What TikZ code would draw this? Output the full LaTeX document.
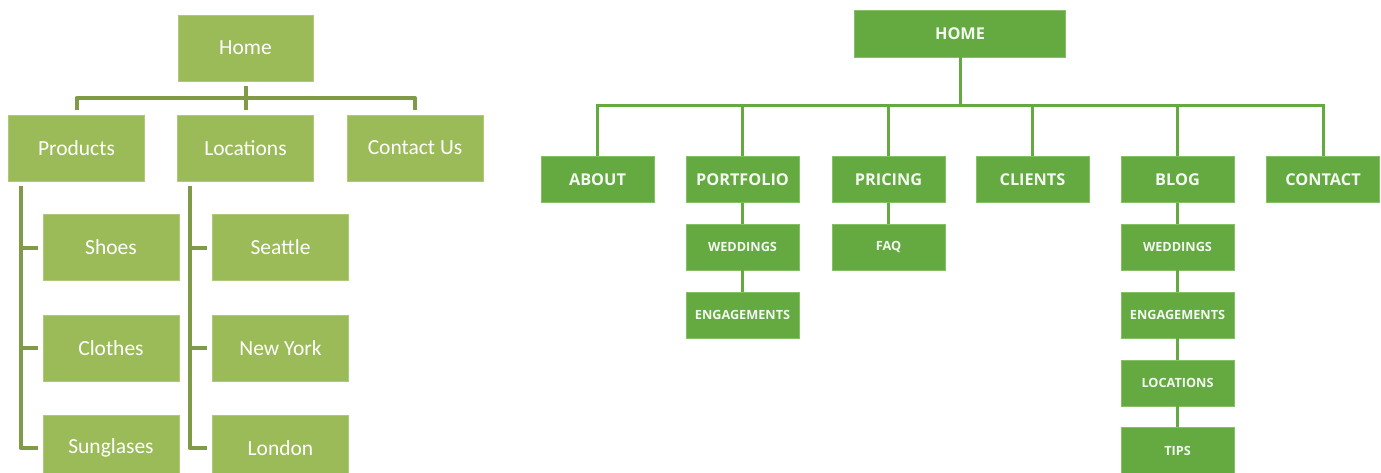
\documentclass[tikz,border=0pt]{standalone}
\usepackage{fontspec}
\setmainfont{Carlito}
\newfontfamily\capsfont{Open Sans}
\definecolor{oliveFill}{HTML}{9BBB59}
\definecolor{oliveLine}{HTML}{7F9B47}
\definecolor{grassFill}{HTML}{65A941}
\definecolor{grassEdge}{HTML}{86C066}
\begin{document}
\begin{tikzpicture}[x=1pt,y=-1pt,
	oliveBox/.style={shape=rectangle,inner sep=0pt,minimum width=136pt,minimum height=66pt,fill=oliveFill,draw=oliveFill!80!white,line width=0.6pt,text=white,font=\fontsize{21.5}{24}\selectfont},
	oliveLink/.style={draw=oliveLine,line width=4pt,line join=round},
	grassBox/.style={shape=rectangle,inner sep=0pt,minimum width=113pt,minimum height=46pt,fill=grassFill,draw=grassEdge,line width=0.6pt,text=white!92!grassFill,font=\capsfont\bfseries\fontsize{16.3}{19}\selectfont},
	grassSmall/.style={grassBox,font=\capsfont\bfseries\fontsize{12.7}{15}\selectfont},
	grassLink/.style={draw=grassFill,line width=3pt}]
	\clip (0,0) rectangle (1381,473);

	% left site map
	\node (homeNode) at (245.5,48)[oliveBox,minimum width=135pt] {Home};
	\node (productsNode) at (76.5,148)[oliveBox] {Products};
	\node (locationsNode) at (245.5,148)[oliveBox] {Locations};
	\node (contactNode) at (415,148)[oliveBox] {Contact Us};
	\node (shoesNode) at (111,247.5)[oliveBox] {Shoes};
	\node (clothesNode) at (111,348)[oliveBox] {Clothes};
	\node (sunglasesNode) at (111,448)[oliveBox] {Sunglases};
	\node (seattleNode) at (280.5,247.5)[oliveBox] {Seattle};
	\node (newYorkNode) at (280.5,348)[oliveBox] {New York};
	\node (londonNode) at (280.5,448)[oliveBox] {London};

	\coordinate (leftBus) at (245.5,98);
	\draw[oliveLink,shorten >=5pt] (leftBus) -- (homeNode.south);
	\foreach \n in {productsNode,locationsNode,contactNode}
		\draw[oliveLink,shorten >=5pt] (leftBus) -| (\n.north);
	\foreach \p/\c in {productsNode/shoesNode,productsNode/clothesNode,productsNode/sunglasesNode,
		locationsNode/seattleNode,locationsNode/newYorkNode,locationsNode/londonNode}
		\draw[oliveLink,shorten <=5pt,shorten >=5pt] ([xshift=-56pt]\p.south) |- (\c.west);

	% right site map
	\node (topNode) at (960,33.5)[grassBox,minimum width=211pt,minimum height=47pt] {HOME};
	\node (aboutNode) at (597.5,179.5)[grassBox] {ABOUT};
	\node (portfolioNode) at (742.5,179.5)[grassBox] {PORTFOLIO};
	\node (pricingNode) at (888.5,179.5)[grassBox] {PRICING};
	\node (clientsNode) at (1032.5,179.5)[grassBox] {CLIENTS};
	\node (blogNode) at (1177.5,179.5)[grassBox] {BLOG};
	\node (contactTopNode) at (1323,179.5)[grassBox] {CONTACT};
	\node (pfWeddingsNode) at (742.5,247)[grassSmall] {WEDDINGS};
	\node (pfEngagementsNode) at (742.5,315)[grassSmall] {ENGAGEMENTS};
	\node (faqNode) at (888.5,247)[grassSmall] {FAQ};
	\node (blWeddingsNode) at (1177.5,247)[grassSmall] {WEDDINGS};
	\node (blEngagementsNode) at (1177.5,315)[grassSmall] {ENGAGEMENTS};
	\node (blLocationsNode) at (1177.5,383)[grassSmall] {LOCATIONS};
	\node (tipsNode) at (1177.5,450.5)[grassSmall] {TIPS};

	\coordinate (rightBus) at (960,106);
	\draw[grassLink] (topNode.south) -- (rightBus);
	\foreach \n in {aboutNode,portfolioNode,pricingNode,clientsNode,blogNode,contactTopNode}
		\draw[grassLink] (rightBus) -| (\n.north);
	\foreach \a/\b in {portfolioNode/pfWeddingsNode,pfWeddingsNode/pfEngagementsNode,pricingNode/faqNode,
		blogNode/blWeddingsNode,blWeddingsNode/blEngagementsNode,blEngagementsNode/blLocationsNode,blLocationsNode/tipsNode}
		\draw[grassLink] (\a.south) -- (\b.north);
\end{tikzpicture}
\end{document}
